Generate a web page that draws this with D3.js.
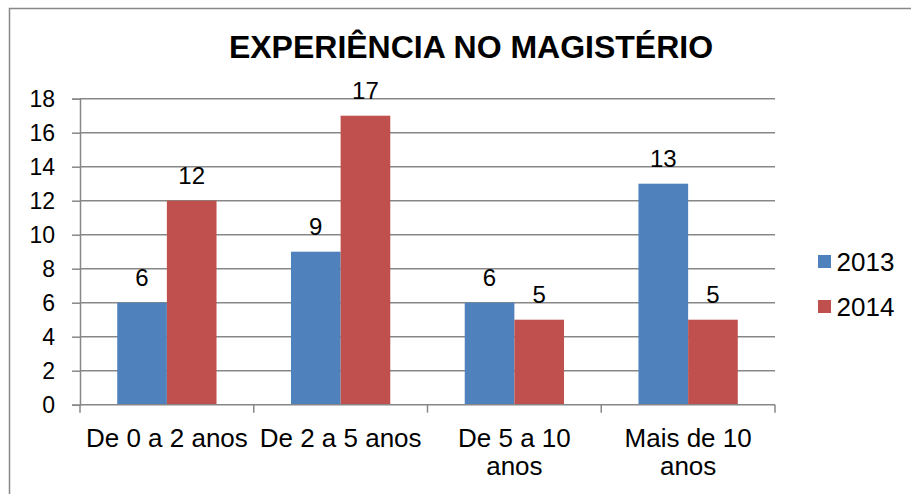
<!DOCTYPE html>
<html>
<head>
<meta charset="utf-8">
<script src="https://cdn.jsdelivr.net/npm/d3@7"></script>
<style>
  body { margin: 0; background: #fff; }
  text { font-family: "Liberation Sans", Arial, sans-serif; fill: #000; }
</style>
</head>
<body>
<svg id="chart" width="911" height="494"></svg>
<script>
// data
var categories = ["De 0 a 2 anos", "De 2 a 5 anos", "De 5 a 10 anos", "Mais de 10 anos"];
var seriesNames = ["2013", "2014"];
var values2013 = [6, 9, 6, 13];
var values2014 = [12, 17, 5, 5];
var yTicks = [0, 2, 4, 6, 8, 10, 12, 14, 16, 18];
var colors = ["#4f81bd", "#c0504d"];

var svg = d3.select("#chart");
var plot = { left: 80, right: 775, top: 98.7, bottom: 404.7 };

// outer chart border (right/bottom sides run off the window)
svg.append("rect")
    .attr("x", 9.5).attr("y", 8.5)
    .attr("width", 920).attr("height", 500)
    .attr("fill", "none").attr("stroke", "#888").attr("stroke-width", 1.5);

var x = d3.scaleBand().domain(categories).range([plot.left, plot.right]);
var y = d3.scaleLinear().domain([0, 18]).range([plot.bottom, plot.top]);

// bar width from a 150% gap
var bw = x.bandwidth() / 3.5;
var x1 = d3.scaleBand().domain(seriesNames)
    .range([0, bw * 2]);

// gridlines
svg.append("g").selectAll("line")
    .data(yTicks.slice(1))
    .join("line")
    .attr("x1", plot.left).attr("x2", plot.right)
    .attr("y1", d => y(d)).attr("y2", d => y(d))
    .attr("stroke", "#878787").attr("stroke-width", 1.5);

// y axis
var yAxis = svg.append("g")
    .attr("transform", "translate(" + plot.left + ",0)")
    .call(d3.axisLeft(y).tickValues(yTicks).tickSize(8).tickPadding(17));
yAxis.select(".domain").attr("stroke", "#878787").attr("stroke-width", 1.5);
yAxis.selectAll(".tick line").attr("stroke", "#878787").attr("stroke-width", 1.5);
yAxis.selectAll("text").style("font-size", "23px")
    .style("font-family", "Liberation Sans, Arial, sans-serif").attr("fill", "#000");

// bars
var rows = categories.map(function (c, i) {
    return { cat: c, vals: [values2013[i], values2014[i]] };
});

var groups = svg.append("g").selectAll("g")
    .data(rows)
    .join("g")
    .attr("transform", d => "translate(" + (x(d.cat) + (x.bandwidth() - bw * 2) / 2) + ",0)");

groups.selectAll("rect")
    .data(d => d.vals.map((v, j) => ({ name: seriesNames[j], v: v, j: j })))
    .join("rect")
    .attr("x", d => x1(d.name))
    .attr("y", d => y(d.v))
    .attr("width", x1.bandwidth())
    .attr("height", d => y(0) - y(d.v))
    .attr("fill", d => colors[d.j]);

groups.selectAll("text")
    .data(d => d.vals.map((v, j) => ({ name: seriesNames[j], v: v, j: j })))
    .join("text")
    .attr("x", d => x1(d.name) + x1.bandwidth() / 2)
    .attr("y", d => y(d.v) - 17)
    .attr("text-anchor", "middle")
    .style("font-size", "24px")
    .text(d => d.v);

// x axis
var xAxis = svg.append("g")
    .attr("transform", "translate(0," + plot.bottom + ")")
    .call(d3.axisBottom(x).tickSize(0).tickPadding(23.5));
xAxis.select(".domain").remove();
xAxis.selectAll("text").style("font-size", "26px")
    .style("font-family", "Liberation Sans, Arial, sans-serif").attr("fill", "#000")
    .call(wrap, x.bandwidth());

svg.append("line")
    .attr("x1", plot.left).attr("x2", plot.right)
    .attr("y1", plot.bottom).attr("y2", plot.bottom)
    .attr("stroke", "#878787").attr("stroke-width", 1.5);
svg.append("g").selectAll("line")
    .data(x.domain().map(d => x(d)).concat([plot.right]))
    .join("line")
    .attr("x1", d => d).attr("x2", d => d)
    .attr("y1", plot.bottom).attr("y2", plot.bottom + 8)
    .attr("stroke", "#878787").attr("stroke-width", 1.5);

// title
svg.append("text")
    .attr("x", 471).attr("y", 58.3)
    .attr("text-anchor", "middle")
    .style("font-size", "32px").style("font-weight", "bold")
    .text("EXPERIÊNCIA NO MAGISTÉRIO");

// legend
var legend = svg.append("g").selectAll("g")
    .data(seriesNames)
    .join("g")
    .attr("transform", (d, i) => "translate(818," + (255 + i * 45) + ")");
legend.append("rect")
    .attr("width", 13).attr("height", 13)
    .attr("fill", (d, i) => colors[i]);
legend.append("text")
    .attr("x", 18.5).attr("y", 15.7)
    .style("font-size", "26px")
    .text(d => d);

function wrap(texts, width) {
    texts.each(function () {
        var text = d3.select(this);
        var words = text.text().split(/\s+/);
        var yy = text.attr("y"), dy = parseFloat(text.attr("dy"));
        var line = [], lineNo = 0;
        var tspan = text.text(null).append("tspan").attr("x", 0).attr("y", yy).attr("dy", dy + "em");
        words.forEach(function (w) {
            line.push(w);
            tspan.text(line.join(" "));
            if (tspan.node().getComputedTextLength() > width && line.length > 1) {
                line.pop();
                tspan.text(line.join(" "));
                line = [w];
                tspan = text.append("tspan").attr("x", 0).attr("y", yy)
                    .attr("dy", (++lineNo * 1.09 + dy) + "em").text(w);
            }
        });
    });
}
</script>
</body>
</html>
